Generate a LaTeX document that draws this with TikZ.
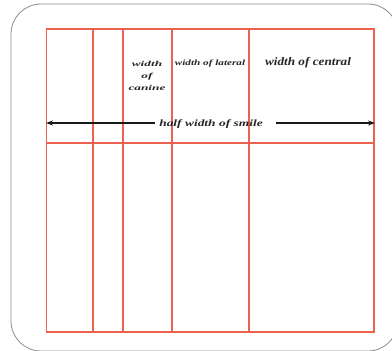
\documentclass[tikz,border=0pt]{standalone}
\usepackage{fontspec}
\setmainfont{Liberation Serif}
\usetikzlibrary{arrows.meta}
\definecolor{gridred}{RGB}{236,98,78}
\definecolor{framegray}{RGB}{140,140,140}
\tikzset{
  gridline/.style={draw=gridred, line width=1.8pt},
  frame/.style={draw=framegray, line width=0.8pt, rounded corners=30pt},
  lbl/.style={inner sep=0pt, text=black!85, align=center},
  spanarrow/.style={draw=black!90, line width=1.4pt, -{Stealth[length=7pt,width=5pt]}}
}
\begin{document}
\begin{tikzpicture}[x=1pt, y=-1pt]
\useasboundingbox (0,0) rectangle (392,351);
% outer rounded panel
\draw[frame] (11,4) rectangle (398,351);
% grid of tooth widths
\draw[gridline] (46.5,29) rectangle (374,332);
\foreach \gx in {93,123,172,249} {
  \draw[gridline] (\gx,29) -- (\gx,332);
}
\draw[gridline] (46.5,143) -- (374,143);
% labels
\node[lbl, font=\fontsize{7.6}{12}\selectfont\bfseries\itshape] (canine) at (147,76)
  {\scalebox{1.75}[1]{width}\\\scalebox{1.75}[1]{of}\\\scalebox{1.75}[1]{canine}};
\node[lbl, font=\fontsize{8}{9}\selectfont\bfseries\itshape] (lateral) at (210,64)
  {\scalebox{1.4}[1]{width of lateral}};
\node[lbl, font=\fontsize{11.5}{13}\selectfont\bfseries\itshape] (central) at (308,63)
  {\scalebox{1.15}[1]{width of central}};
\node[lbl, font=\fontsize{9.6}{11}\selectfont\bfseries\itshape] (half) at (211,124)
  {\scalebox{1.4}[1]{half width of smile}};
% span arrows
\coordinate (leftend) at (46,123);
\coordinate (rightend) at (375,123);
\draw[spanarrow] ([xshift=-4pt]half.west |- leftend) -- (leftend);
\draw[spanarrow] ([xshift=13pt]half.east |- rightend) -- (rightend);
\end{tikzpicture}
\end{document}
